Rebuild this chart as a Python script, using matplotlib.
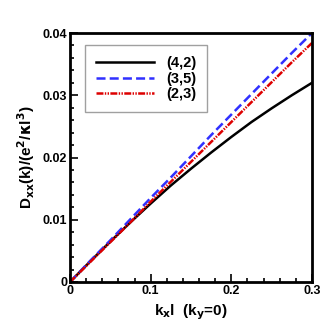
import matplotlib
matplotlib.use("Agg")
import matplotlib.pyplot as plt
from matplotlib.ticker import MultipleLocator, FuncFormatter

plt.rcParams['font.family'] = ['Liberation Sans', 'DejaVu Sans']
plt.rcParams['font.weight'] = 'bold'
plt.rcParams['mathtext.default'] = 'bf'
plt.rcParams['lines.scale_dashes'] = False

# data
kx = [0.0, 0.025, 0.05, 0.075, 0.1, 0.125, 0.15, 0.175, 0.2, 0.225, 0.25, 0.275, 0.3]
d_42 = [0.0, 0.0033, 0.0065, 0.0096, 0.0126, 0.0155, 0.0182, 0.0208, 0.0233,
        0.0257, 0.0279, 0.0300, 0.0320]
d_35 = [0.0, 0.0034, 0.0067, 0.0101, 0.0135, 0.0168, 0.0202, 0.0236, 0.0269,
        0.0302, 0.0335, 0.0368, 0.0400]
d_23 = [0.0, 0.0032, 0.0064, 0.0096, 0.0129, 0.0161, 0.0193, 0.0225, 0.0257,
        0.0289, 0.0321, 0.0353, 0.0384]
labels = ['(4,2)', '(3,5)', '(2,3)']

fig = plt.figure(figsize=(3.29, 3.29), dpi=100)
ax = fig.add_axes([70/329, 1 - 282/329, 242/329, 249/329])

ax.plot(kx, d_42, color='black', lw=1.8, label=labels[0])
ax.plot(kx, d_35, color='#3030ff', lw=1.8, dashes=(6.5, 3.0), label=labels[1])
ax.plot(kx, d_23, color='#dd0000', lw=1.8, dashes=(5, 1.0, 1, 1.0, 1, 1.0), label=labels[2])

ax.set_xlim(0, 0.3)
ax.set_ylim(0, 0.04)
ax.xaxis.set_major_locator(MultipleLocator(0.1))
ax.xaxis.set_minor_locator(MultipleLocator(0.02))
ax.yaxis.set_major_locator(MultipleLocator(0.01))
ax.yaxis.set_minor_locator(MultipleLocator(0.002))
fmt = FuncFormatter(lambda v, p: '0' if abs(v) < 1e-12 else ('%g' % round(v, 4)))
ax.xaxis.set_major_formatter(fmt)
ax.yaxis.set_major_formatter(fmt)
ax.tick_params(which='both', direction='in', top=False, right=False, labelsize=9, width=1.2)
ax.tick_params(which='major', length=6, pad=2)
ax.tick_params(which='minor', length=3)
for s in ax.spines.values():
    s.set_linewidth(2)

ax.set_xlabel(r'k$_\mathbf{x}$l  (k$_\mathbf{y}$=0)', fontsize=11, fontweight='bold', labelpad=4)
ax.set_ylabel(r'D$_\mathbf{xx}$(k)/(e$^\mathbf{2}$/$\mathbf{\kappa}$l$^\mathbf{3}$)',
              fontsize=11, fontweight='bold', labelpad=4)

leg = ax.legend(loc='upper left', bbox_to_anchor=(15/242, 1 - 12/249), fontsize=10.5,
                frameon=True, fancybox=False, edgecolor='#888888', handlelength=4.0,
                borderpad=0.75, labelspacing=0.12, handletextpad=0.8, borderaxespad=0)
leg.get_frame().set_linewidth(1.0)

fig.savefig('out.png', dpi=100)
